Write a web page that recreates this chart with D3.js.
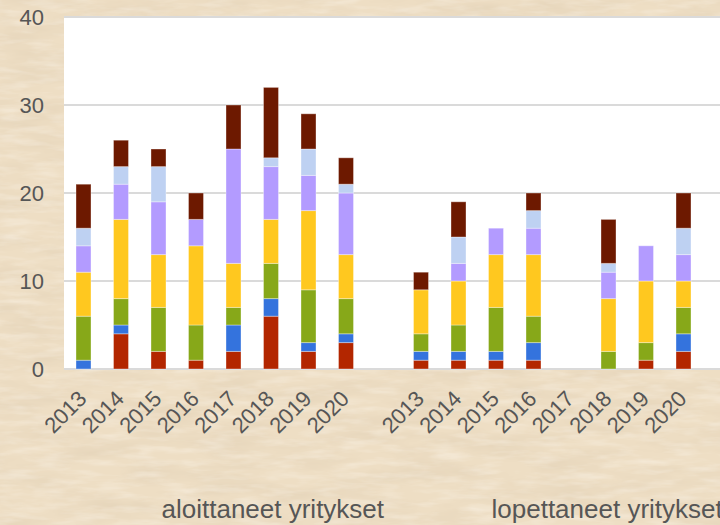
<!DOCTYPE html>
<html>
<head>
<meta charset="utf-8">
<script src="https://cdn.jsdelivr.net/npm/d3@7"></script>
<style>
  html, body { margin: 0; padding: 0; background: #ECDCC2; }
  svg { display: block; }
  text { font-family: "Liberation Sans", Arial, sans-serif; fill: #565656; }
</style>
</head>
<body>
<svg id="chart" width="720" height="525"></svg>
<script>
// ---- data ----
const years = ["2013", "2014", "2015", "2016", "2017", "2018", "2019", "2020"];
const groups = ["aloittaneet yritykset", "lopettaneet yritykset"];
const seriesNames = ["sarja 1", "sarja 2", "sarja 3", "sarja 4", "sarja 5", "sarja 6", "sarja 7"];
const seriesColors = ["#B32600", "#3473DD", "#87A819", "#FFC81F", "#B39BFF", "#BED1F2", "#6D1900"];

// aloittaneet yritykset (started), one array per series, 2013..2020
const started1 = [0, 4, 2, 1, 2, 6, 2, 3];
const started2 = [1, 1, 0, 0, 3, 2, 1, 1];
const started3 = [5, 3, 5, 4, 2, 4, 6, 4];
const started4 = [5, 9, 6, 9, 5, 5, 9, 5];
const started5 = [3, 4, 6, 3, 13, 6, 4, 7];
const started6 = [2, 2, 4, 0, 0, 1, 3, 1];
const started7 = [5, 3, 2, 3, 5, 8, 4, 3];

// lopettaneet yritykset (closed), one array per series, 2013..2020
const ended1 = [1, 1, 1, 1, 0, 0, 1, 2];
const ended2 = [1, 1, 1, 2, 0, 0, 0, 2];
const ended3 = [2, 3, 5, 3, 0, 2, 2, 3];
const ended4 = [5, 5, 6, 7, 0, 6, 7, 3];
const ended5 = [0, 2, 3, 3, 0, 3, 4, 3];
const ended6 = [0, 3, 0, 2, 0, 1, 0, 3];
const ended7 = [2, 4, 0, 2, 0, 5, 0, 4];

const yTicks = [0, 10, 20, 30, 40];

// ---- build table ----
const startedSeries = [started1, started2, started3, started4, started5, started6, started7];
const endedSeries = [ended1, ended2, ended3, ended4, ended5, ended6, ended7];
const rows = [];
years.forEach((yr, i) => {
  const r = { key: "a-" + yr, year: yr };
  seriesNames.forEach((s, j) => r[s] = startedSeries[j][i]);
  rows.push(r);
});
years.forEach((yr, i) => {
  const r = { key: "l-" + yr, year: yr };
  seriesNames.forEach((s, j) => r[s] = endedSeries[j][i]);
  rows.push(r);
});
const domainKeys = years.map(y => "a-" + y).concat(["gap"], years.map(y => "l-" + y));

// ---- layout ----
const W = 720, H = 525;
const plotLeft = 64, plotTop = 16, plotBottom = 369;
const svg = d3.select("#chart");

// parchment background
const defs = svg.append("defs");
const f = defs.append("filter").attr("id", "paper").attr("x", 0).attr("y", 0).attr("width", "100%").attr("height", "100%");
f.append("feTurbulence").attr("type", "fractalNoise").attr("baseFrequency", "0.015 0.06").attr("numOctaves", 4).attr("seed", 7).attr("result", "n");
f.append("feColorMatrix").attr("in", "n").attr("type", "matrix")
  .attr("values", "0 0 0 0 0.7  0 0 0 0 0.58  0 0 0 0 0.42  0.7 0 0 0 -0.25");
const f2 = defs.append("filter").attr("id", "paper2").attr("x", 0).attr("y", 0).attr("width", "100%").attr("height", "100%");
f2.append("feTurbulence").attr("type", "fractalNoise").attr("baseFrequency", "0.03 0.15").attr("numOctaves", 3).attr("seed", 2).attr("result", "n");
f2.append("feColorMatrix").attr("in", "n").attr("type", "matrix")
  .attr("values", "0 0 0 0 1  0 0 0 0 0.97  0 0 0 0 0.92  0 0.7 0 0 -0.3");

svg.append("rect").attr("width", W).attr("height", H).attr("fill", "#EEDEC4");
svg.append("rect").attr("width", W).attr("height", H).attr("filter", "url(#paper)");
svg.append("rect").attr("width", W).attr("height", H).attr("filter", "url(#paper2)");

// scales
const x = d3.scaleBand().domain(domainKeys).range([64.75, 702.25]).paddingInner(0.6).paddingOuter(0.3);
const y = d3.scaleLinear().domain([0, 40]).range([plotBottom, 17]);

// plot area
svg.append("rect").attr("x", plotLeft).attr("y", plotTop).attr("width", W - plotLeft).attr("height", plotBottom - plotTop + 1).attr("fill", "#fff");

// gridlines
svg.append("g").selectAll("line").data(yTicks).join("line")
  .attr("x1", plotLeft).attr("x2", W)
  .attr("y1", d => y(d)).attr("y2", d => y(d))
  .attr("stroke", "#DADADA").attr("stroke-width", 2);

// stacked bars
const stack = d3.stack().keys(seriesNames);
const stacked = stack(rows);
svg.append("g").selectAll("g").data(stacked).join("g")
  .attr("fill", (d, i) => seriesColors[i])
  .selectAll("rect").data(d => d.filter(p => p[1] - p[0] > 0)).join("rect")
  .attr("x", d => x(d.data.key))
  .attr("width", x.bandwidth())
  .attr("y", d => y(d[1]))
  .attr("height", d => y(d[0]) - y(d[1]))
  .attr("stroke", "rgba(255,255,255,0.35)")
  .attr("stroke-width", 1);

// y axis
const yAxis = svg.append("g").attr("transform", `translate(${plotLeft - 20},0)`)
  .call(d3.axisLeft(y).tickValues(yTicks).tickSize(0).tickPadding(0));
yAxis.select(".domain").remove();
yAxis.selectAll("text").style("font-size", "22px").attr("fill", "#565656")
  .style("font-family", '"Liberation Sans", Arial, sans-serif').attr("dy", "0.36em");

// x axis
const xAxis = svg.append("g").attr("transform", `translate(0,${plotBottom})`)
  .call(d3.axisBottom(x).tickSize(0).tickFormat(k => k === "gap" ? "" : k.slice(2)));
xAxis.select(".domain").remove();
xAxis.selectAll("text")
  .style("font-size", "22px").attr("fill", "#565656")
  .style("font-family", '"Liberation Sans", Arial, sans-serif')
  .attr("x", 0).attr("y", 0).attr("dy", 0)
  .attr("text-anchor", "end")
  .attr("transform", "translate(4.5,31) rotate(-45)");

// group labels (the second one runs past the right edge, as in the reference)
const groupX = [161.5, 491.5];
svg.append("g").selectAll("text").data(groups).join("text")
  .attr("x", (d, i) => groupX[i]).attr("y", 518)
  .style("font-size", "26px")
  .text(d => d);
</script>
</body>
</html>
